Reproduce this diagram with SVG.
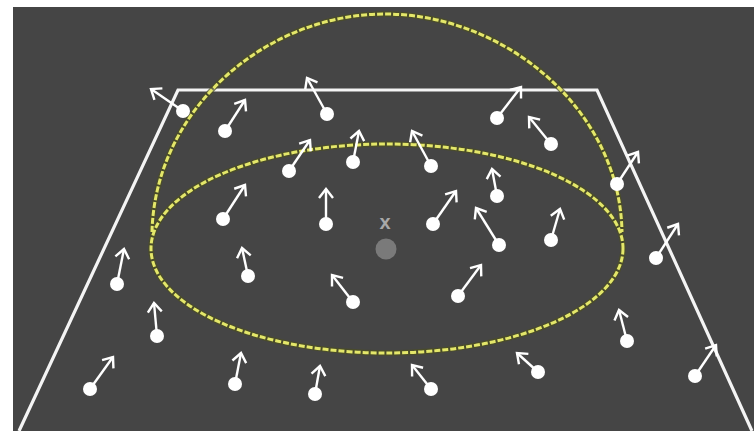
<svg xmlns="http://www.w3.org/2000/svg" width="754" height="433" viewBox="0 0 754 433">
<style>
.v{stroke:#fff;stroke-width:2.4;fill:none;marker-end:url(#a)}
.d{fill:#fff}
.y{fill:none;stroke:#e4e76a;stroke-width:3;stroke-dasharray:6 2}
.u{fill:none;stroke:#4d5020;stroke-width:5.500;opacity:.7}
</style>
<defs><marker id="a" markerUnits="userSpaceOnUse" markerWidth="20" markerHeight="20" refX="13" refY="10" orient="auto"><path d="M4 3 L13 10 L4 17" fill="none" stroke="#fff" stroke-width="2.4"/></marker></defs>
<rect width="754" height="433" fill="#fff"/>
<rect x="13" y="7" width="741" height="424" fill="#454545"/>
<path id="plane" d="M19 431 L178 90 H597 L752 431" fill="none" stroke="#f4f4f4" stroke-width="3.200"/>
<g id="center"><circle cx="386" cy="249" r="10.500" fill="#7a7a7a"/><text x="385" y="229" font-family="Liberation Sans, sans-serif" font-size="20" font-weight="bold" fill="#a8a8a8" text-anchor="middle">x</text></g>
<g id="hemisphere">
<ellipse class="u" cx="387" cy="248.500" rx="236" ry="104.500"/>
<path class="u" d="M152 232 C155 110 265 14 385 14 C505 14 620 110 622 232"/>
<ellipse class="y" cx="387" cy="248.500" rx="236" ry="104.500"/>
<path class="y" d="M152 232 C155 110 265 14 385 14 C505 14 620 110 622 232"/>
</g>
<g id="connectors">
<path class="v" d="M183 111 L151 89"/><path class="v" d="M225 131 L245 100"/><path class="v" d="M327 114 L307 78"/><path class="v" d="M497 118 L521 87"/>
<path class="v" d="M551 144 L529 117"/><path class="v" d="M289 171 L310 140"/><path class="v" d="M353 162 L359 131"/><path class="v" d="M431 166 L412 131"/>
<path class="v" d="M617 184 L638 152"/><path class="v" d="M223 219 L245 185"/><path class="v" d="M326 224 L326 189"/><path class="v" d="M433 224 L456 191"/>
<path class="v" d="M497 196 L492 169"/><path class="v" d="M499 245 L476 208"/><path class="v" d="M551 240 L560 209"/><path class="v" d="M117 284 L124 249"/>
<path class="v" d="M248 276 L242 248"/><path class="v" d="M353 302 L332 275"/><path class="v" d="M458 296 L481 265"/><path class="v" d="M656 258 L678 224"/>
<path class="v" d="M157 336 L154 303"/><path class="v" d="M627 341 L619 310"/><path class="v" d="M90 389 L113 357"/><path class="v" d="M235 384 L241 353"/>
<path class="v" d="M315 394 L320 366"/><path class="v" d="M431 389 L412 365"/><path class="v" d="M538 372 L517 353"/><path class="v" d="M695 376 L716 345"/>
</g>
<g id="n1"><circle class="d" cx="183" cy="111" r="7"/></g><g id="n2"><circle class="d" cx="225" cy="131" r="7"/></g><g id="n3"><circle class="d" cx="327" cy="114" r="7"/></g><g id="n4"><circle class="d" cx="497" cy="118" r="7"/></g>
<g id="n5"><circle class="d" cx="551" cy="144" r="7"/></g><g id="n6"><circle class="d" cx="289" cy="171" r="7"/></g><g id="n7"><circle class="d" cx="353" cy="162" r="7"/></g><g id="n8"><circle class="d" cx="431" cy="166" r="7"/></g>
<g id="n9"><circle class="d" cx="617" cy="184" r="7"/></g><g id="n10"><circle class="d" cx="223" cy="219" r="7"/></g><g id="n11"><circle class="d" cx="326" cy="224" r="7"/></g><g id="n12"><circle class="d" cx="433" cy="224" r="7"/></g>
<g id="n13"><circle class="d" cx="497" cy="196" r="7"/></g><g id="n14"><circle class="d" cx="499" cy="245" r="7"/></g><g id="n15"><circle class="d" cx="551" cy="240" r="7"/></g><g id="n16"><circle class="d" cx="117" cy="284" r="7"/></g>
<g id="n17"><circle class="d" cx="248" cy="276" r="7"/></g><g id="n18"><circle class="d" cx="353" cy="302" r="7"/></g><g id="n19"><circle class="d" cx="458" cy="296" r="7"/></g><g id="n20"><circle class="d" cx="656" cy="258" r="7"/></g>
<g id="n21"><circle class="d" cx="157" cy="336" r="7"/></g><g id="n22"><circle class="d" cx="627" cy="341" r="7"/></g><g id="n23"><circle class="d" cx="90" cy="389" r="7"/></g><g id="n24"><circle class="d" cx="235" cy="384" r="7"/></g>
<g id="n25"><circle class="d" cx="315" cy="394" r="7"/></g><g id="n26"><circle class="d" cx="431" cy="389" r="7"/></g><g id="n27"><circle class="d" cx="538" cy="372" r="7"/></g><g id="n28"><circle class="d" cx="695" cy="376" r="7"/></g>
</svg>
